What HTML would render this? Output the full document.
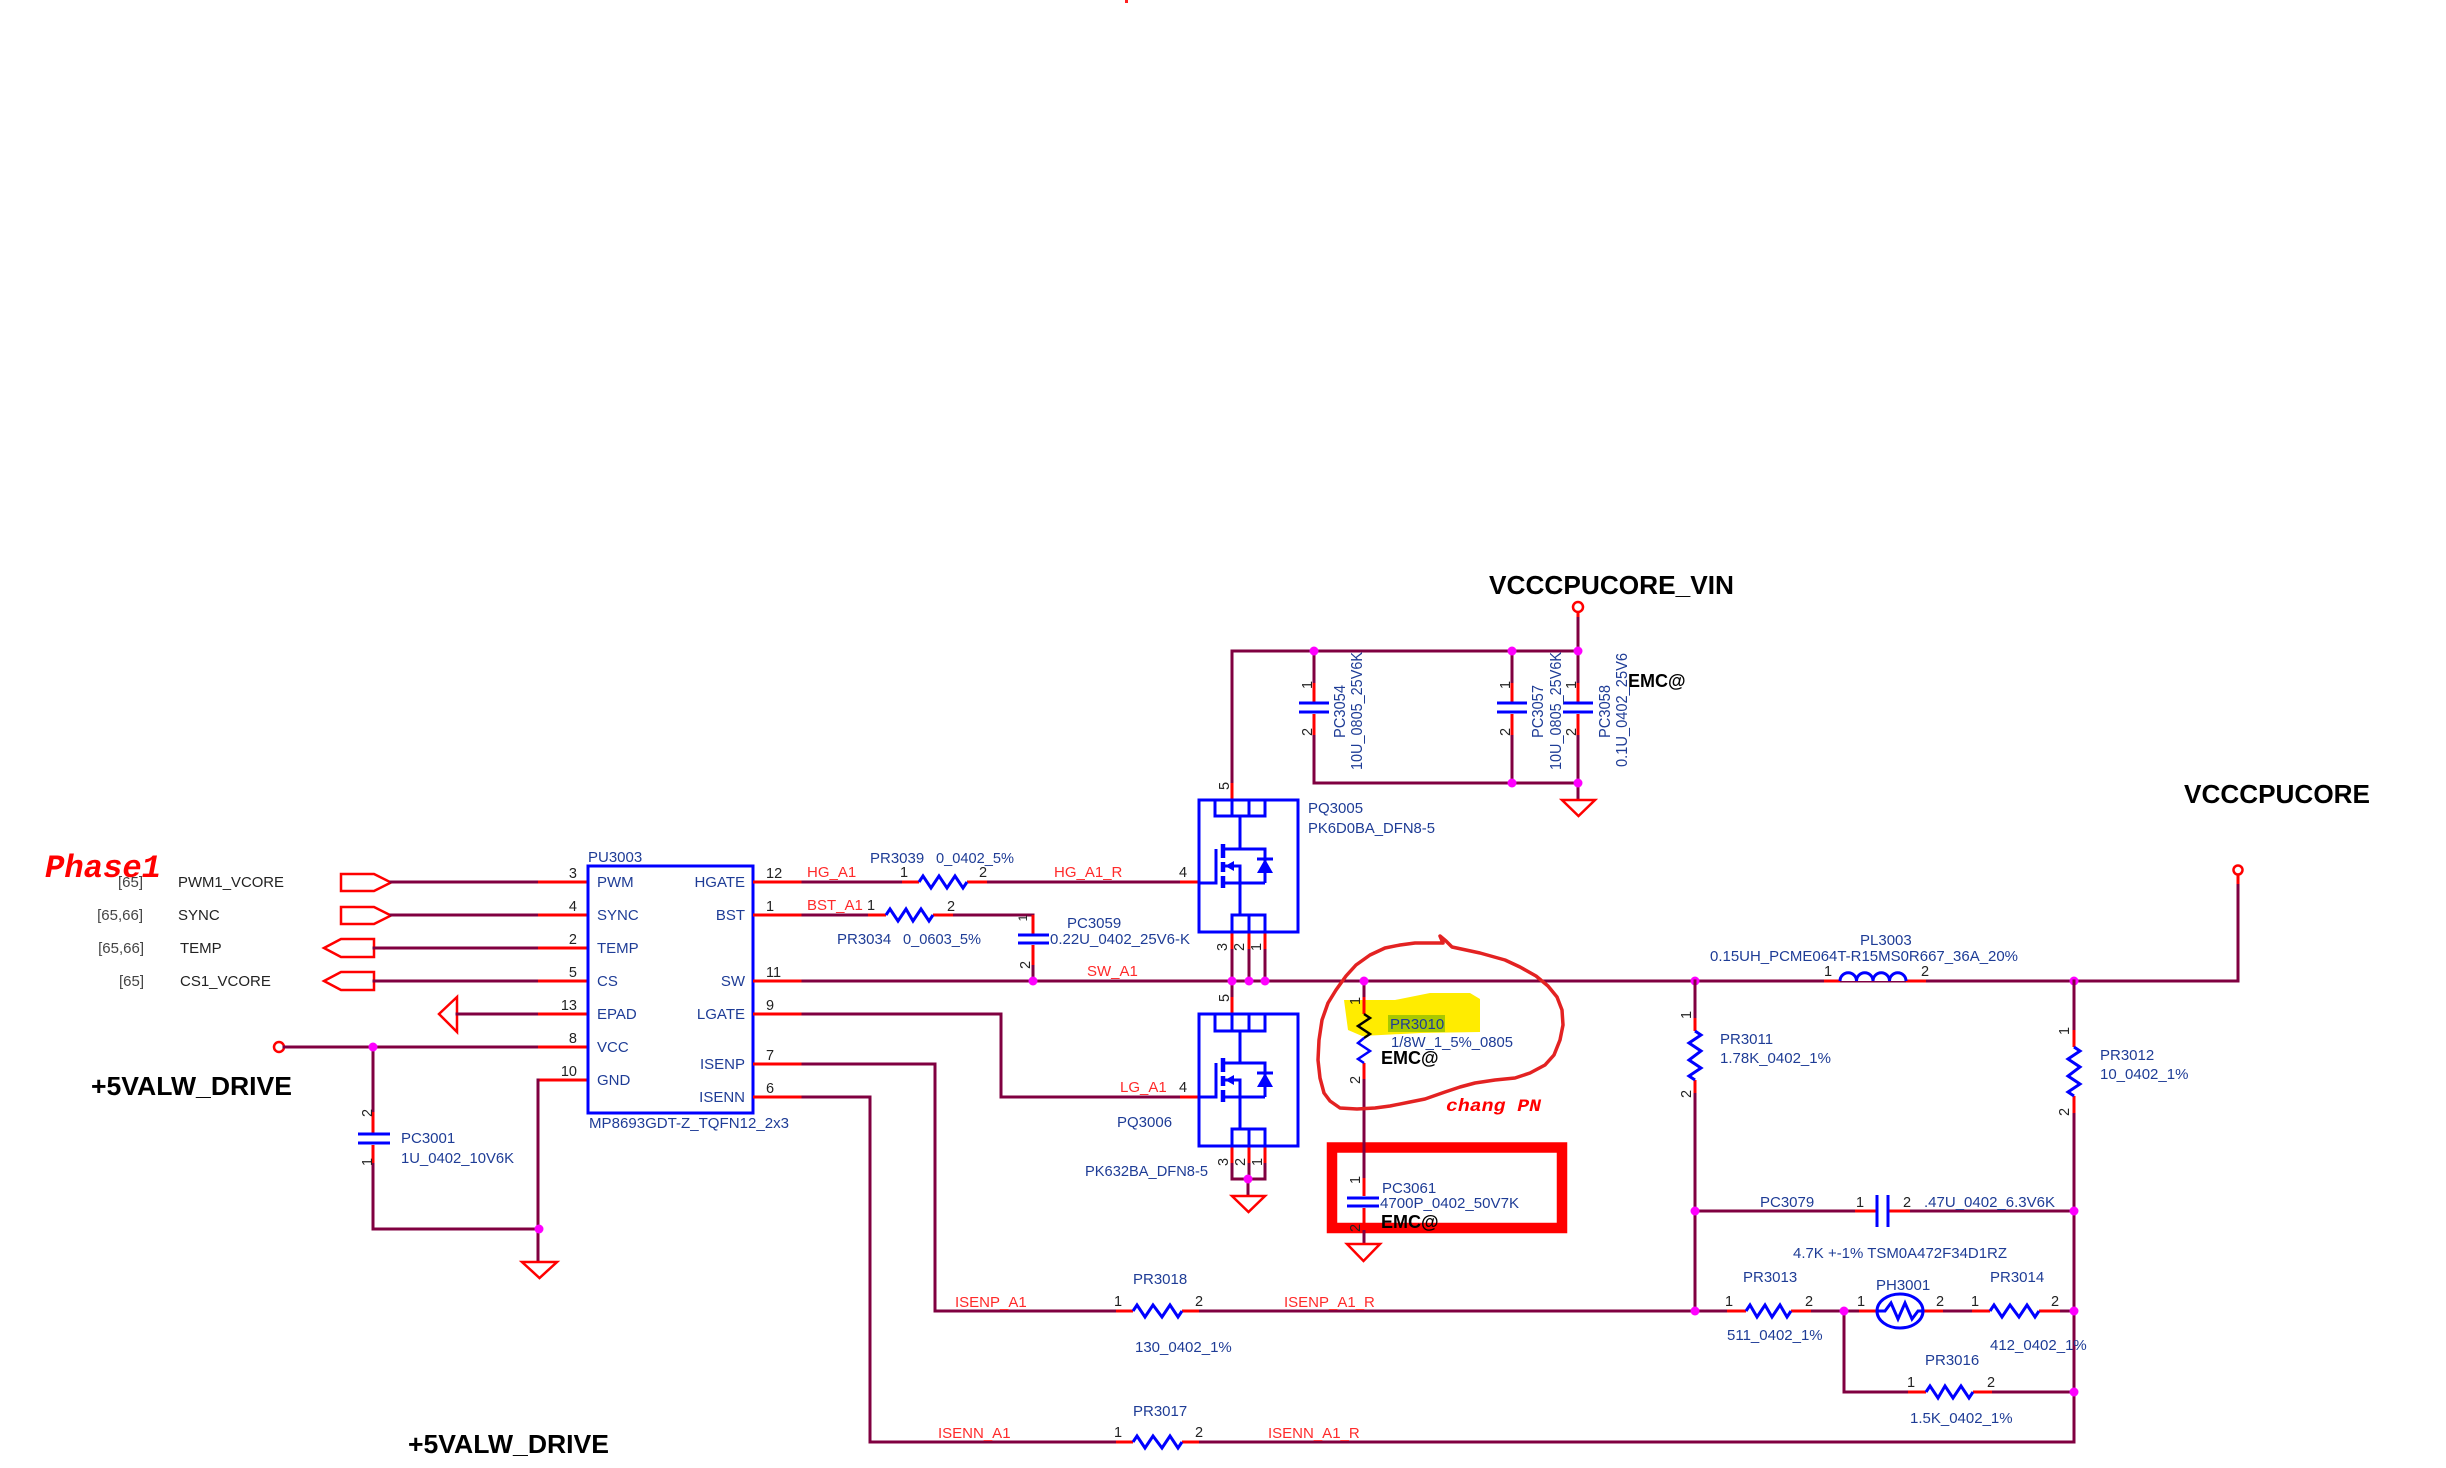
<!DOCTYPE html>
<html><head><meta charset="utf-8"><style>
html,body{margin:0;padding:0;background:#fff;}
body{width:2446px;height:1468px;overflow:hidden;}
svg{display:block;}
.w{stroke:#800040;stroke-width:3;fill:none;stroke-linecap:square}
.r{stroke:#ff0000;stroke-width:3;fill:none}
.b{stroke:#0000ff;stroke-width:3;fill:none}
.bf{fill:#0000ff;stroke:none}
.g{stroke:#ff0000;stroke-width:2.5;fill:#fff}
.d{fill:#ff00ff}
text{font-family:"Liberation Sans",Arial,sans-serif;font-size:15px;fill:#1e3c96}
.n{fill:#222;font-size:14.5px}
.nl{fill:#ff2a2a}
.k{fill:#222}
.bd{font-weight:bold;fill:#000}
.mono{font-family:"Liberation Mono","Courier New",monospace;font-weight:bold;font-style:italic;fill:#ff0000}
</style></head><body>
<svg width="2446" height="1468" viewBox="0 0 2446 1468" xmlns="http://www.w3.org/2000/svg">
<rect x="1125" y="0" width="3" height="3" fill="#ff2020"/>

<!-- hand markings behind -->
<polygon points="1344,1000 1395,1000 1430,993 1470,993 1480,999 1480,1032 1420,1033 1362,1036 1348,1030" fill="#ffec00"/>
<rect x="1388" y="1015" width="57" height="17" fill="#a8c800"/>
<rect x="1332" y="1147.5" width="230" height="80.5" fill="none" stroke="#ff0000" stroke-width="10.5"/>

<!-- Title texts -->
<text x="45" y="877" class="mono" style="font-size:32px" textLength="116" lengthAdjust="spacingAndGlyphs">Phase1</text>
<text x="91" y="1095" class="bd" style="font-size:26px" textLength="201" lengthAdjust="spacingAndGlyphs">+5VALW_DRIVE</text>
<text x="408" y="1453" class="bd" style="font-size:26px" textLength="201" lengthAdjust="spacingAndGlyphs">+5VALW_DRIVE</text>
<text x="1489" y="594" class="bd" style="font-size:26px" textLength="245" lengthAdjust="spacingAndGlyphs">VCCCPUCORE_VIN</text>
<text x="2184" y="803" class="bd" style="font-size:26px" textLength="186" lengthAdjust="spacingAndGlyphs">VCCCPUCORE</text>

<!-- Left ports -->
<text x="143" y="887" text-anchor="end" style="fill:#444">[65]</text>
<text x="178" y="887" class="k" textLength="106" lengthAdjust="spacingAndGlyphs">PWM1_VCORE</text>
<text x="143" y="920" text-anchor="end" style="fill:#444">[65,66]</text>
<text x="178" y="920" class="k">SYNC</text>
<text x="144" y="953" text-anchor="end" style="fill:#444">[65,66]</text>
<text x="180" y="953" class="k">TEMP</text>
<text x="144" y="986" text-anchor="end" style="fill:#444">[65]</text>
<text x="180" y="986" class="k">CS1_VCORE</text>

<polygon class="g" points="341,874 374,874 391,882.5 374,891 341,891"/>
<polygon class="g" points="341,907 374,907 391,915.5 374,924 341,924"/>
<polygon class="g" points="324,948 341,939 374,939 374,957 341,957"/>
<polygon class="g" points="324,981 341,972 374,972 374,990 341,990"/>
<polygon class="g" points="439,1014 457,997 457,1032"/>
<circle cx="279" cy="1047" r="5" class="g"/>

<path class="w" d="M391,882H538M391,915H538M374,948H538M374,981H538M457,1014H538M284,1047H538"/>
<path class="r" d="M538,882H588M538,915H588M538,948H588M538,981H588M538,1014H588M538,1047H588M538,1080H588"/>
<path class="w" d="M538,1080V1262M373,1047V1112M373,1163V1229H538"/>
<path class="r" d="M373,1112V1133M373,1145V1163"/>
<path class="b" d="M358,1134H390M358,1143H390"/>
<polygon class="g" points="522,1262 557,1262 539.5,1278"/>
<circle cx="373" cy="1047" r="4.5" class="d"/>
<circle cx="539" cy="1229" r="4.5" class="d"/>
<text class="n" transform="translate(367,1113) rotate(-90)" text-anchor="middle" y="5">2</text>
<text class="n" transform="translate(367,1162) rotate(-90)" text-anchor="middle" y="5">1</text>
<text x="401" y="1143">PC3001</text>
<text x="401" y="1163" textLength="113" lengthAdjust="spacingAndGlyphs">1U_0402_10V6K</text>

<!-- PU3003 -->
<rect x="588" y="866" width="165" height="247" class="b"/>
<text x="588" y="862">PU3003</text>
<text x="589" y="1128" textLength="200" lengthAdjust="spacingAndGlyphs">MP8693GDT-Z_TQFN12_2x3</text>
<text x="597" y="887">PWM</text>
<text x="597" y="920">SYNC</text>
<text x="597" y="953">TEMP</text>
<text x="597" y="986">CS</text>
<text x="597" y="1019">EPAD</text>
<text x="597" y="1052">VCC</text>
<text x="597" y="1085">GND</text>
<text x="745" y="887" text-anchor="end">HGATE</text>
<text x="745" y="920" text-anchor="end">BST</text>
<text x="745" y="986" text-anchor="end">SW</text>
<text x="745" y="1019" text-anchor="end">LGATE</text>
<text x="745" y="1069" text-anchor="end">ISENP</text>
<text x="745" y="1102" text-anchor="end">ISENN</text>
<g text-anchor="end">
<text class="n" x="577" y="878">3</text>
<text class="n" x="577" y="911">4</text>
<text class="n" x="577" y="944">2</text>
<text class="n" x="577" y="977">5</text>
<text class="n" x="577" y="1010">13</text>
<text class="n" x="577" y="1043">8</text>
<text class="n" x="577" y="1076">10</text>
</g>
<text class="n" x="766" y="878">12</text>
<text class="n" x="766" y="911">1</text>
<text class="n" x="766" y="977">11</text>
<text class="n" x="766" y="1010">9</text>
<text class="n" x="766" y="1060">7</text>
<text class="n" x="766" y="1093">6</text>
<path class="r" d="M753,882H803M753,915H803M753,981H803M753,1014H803M753,1064H803M753,1097H803"/>

<!-- HGATE chain -->
<path class="w" d="M803,882H902M987,882H1180"/>
<path class="r" d="M902,882H919M967,882H987M1180,882H1199"/>
<polyline class="b" points="919,882 923,876 931,888 939,876 947,888 955,876 963,888 967,882"/>
<text x="870" y="863">PR3039</text>
<text x="936" y="863" textLength="78" lengthAdjust="spacingAndGlyphs">0_0402_5%</text>
<text x="807" y="877" class="nl">HG_A1</text>
<text class="n" x="900" y="877">1</text>
<text class="n" x="979" y="877">2</text>
<text x="1054" y="877" class="nl">HG_A1_R</text>
<text class="n" x="1179" y="877">4</text>

<!-- BST chain -->
<path class="w" d="M803,915H868M953,915H1033M1033,965V981"/>
<path class="r" d="M868,915H886M933,915H953M1033,915V934M1033,945V965"/>
<polyline class="b" points="886,915 890,909 898,921 906,909 913,921 921,909 929,921 933,915"/>
<path class="b" d="M1018,935H1049M1018,943H1049"/>
<text x="807" y="910" class="nl">BST_A1</text>
<text class="n" x="867" y="910">1</text>
<text class="n" x="947" y="911">2</text>
<text x="837" y="944">PR3034</text>
<text x="903" y="944" textLength="78" lengthAdjust="spacingAndGlyphs">0_0603_5%</text>
<text x="1067" y="928">PC3059</text>
<text x="1050" y="944" textLength="140" lengthAdjust="spacingAndGlyphs">0.22U_0402_25V6-K</text>
<text class="n" transform="translate(1023,918) rotate(-90)" text-anchor="middle" y="4" style="font-size:12px">1</text>
<text class="n" transform="translate(1025,965) rotate(-90)" text-anchor="middle" y="5">2</text>

<!-- SW line -->
<path class="w" d="M803,981H2238V884"/>
<path class="r" d="M2238,884V875"/>
<circle cx="2238" cy="870" r="4.5" class="g"/>
<text x="1087" y="976" class="nl">SW_A1</text>

<!-- LGATE -->
<path class="w" d="M803,1014H1001V1097H1180"/>
<path class="r" d="M1180,1097H1199"/>
<text x="1120" y="1092" class="nl">LG_A1</text>
<text class="n" x="1179" y="1092">4</text>

<!-- PQ3005 -->
<path class="w" d="M1232,651V783M1232,949V981M1249,949V981M1265,949V981"/>
<path class="r" d="M1232,783V800M1232,932V949M1249,932V949M1265,932V949"/>
<g class="b">
<rect x="1199" y="800" width="99" height="132"/>
<rect x="1215" y="800" width="50" height="16"/>
<path d="M1232,800V816M1249,800V816M1240,816V849M1223,849H1265V883M1223,883H1265M1199,883H1216V849M1223,866H1240V915"/>
<rect x="1232" y="915" width="33" height="17"/>
<path d="M1249,915V932M1257,859H1273"/>
</g>
<path d="M1223,844V858M1223,862V872M1223,876V888" stroke="#0000ff" stroke-width="4.5" fill="none"/>
<polygon class="bf" points="1265,859 1257,873 1273,873"/>
<polygon class="bf" points="1225,866 1234,861 1234,871"/>
<text x="1308" y="813">PQ3005</text>
<text x="1308" y="833" textLength="127" lengthAdjust="spacingAndGlyphs">PK6D0BA_DFN8-5</text>
<text class="n" transform="translate(1224,786) rotate(-90)" text-anchor="middle" y="5">5</text>
<text class="n" transform="translate(1222,947) rotate(-90)" text-anchor="middle" y="5">3</text>
<text class="n" transform="translate(1239,947) rotate(-90)" text-anchor="middle" y="5">2</text>
<text class="n" transform="translate(1256,947) rotate(-90)" text-anchor="middle" y="5">1</text>

<!-- PQ3006 -->
<path class="w" d="M1232,981V997M1232,1163V1179H1265V1163M1249,1163V1179M1248,1179V1196"/>
<path class="r" d="M1232,997V1014M1232,1146V1163M1249,1146V1163M1265,1146V1163"/>
<g class="b">
<rect x="1199" y="1014" width="99" height="132"/>
<rect x="1215" y="1014" width="50" height="17"/>
<path d="M1232,1014V1031M1249,1014V1031M1240,1031V1063M1223,1063H1265V1097M1223,1097H1265M1199,1097H1216V1063M1223,1080H1240V1129"/>
<rect x="1232" y="1129" width="33" height="17"/>
<path d="M1249,1129V1146M1257,1073H1273"/>
</g>
<path d="M1223,1058V1072M1223,1076V1086M1223,1090V1102" stroke="#0000ff" stroke-width="4.5" fill="none"/>
<polygon class="bf" points="1265,1073 1257,1087 1273,1087"/>
<polygon class="bf" points="1225,1080 1234,1075 1234,1085"/>
<polygon class="g" points="1232,1196 1265,1196 1248.5,1212"/>
<circle cx="1248" cy="1179" r="4.5" class="d"/>
<text x="1117" y="1127">PQ3006</text>
<text x="1085" y="1176" textLength="123" lengthAdjust="spacingAndGlyphs">PK632BA_DFN8-5</text>
<text class="n" transform="translate(1224,998) rotate(-90)" text-anchor="middle" y="5">5</text>
<text class="n" transform="translate(1223,1162) rotate(-90)" text-anchor="middle" y="5">3</text>
<text class="n" transform="translate(1240,1162) rotate(-90)" text-anchor="middle" y="5">2</text>
<text class="n" transform="translate(1257,1162) rotate(-90)" text-anchor="middle" y="5">1</text>

<!-- VIN caps -->
<path class="w" d="M1232,651H1578V617M1314,651V683M1314,735V783H1578V800M1512,651V683M1512,735V783M1578,651V683M1578,735V783"/>
<path class="r" d="M1578,617V612M1314,683V702M1314,714V735M1512,683V702M1512,714V735M1578,683V702M1578,714V735"/>
<path class="b" d="M1299,703H1329M1299,712H1329M1497,703H1527M1497,712H1527M1563,703H1593M1563,712H1593"/>
<circle cx="1578" cy="607" r="5" class="g"/>
<polygon class="g" points="1562,800 1595,800 1578.5,816"/>
<circle cx="1314" cy="651" r="4.5" class="d"/>
<circle cx="1512" cy="651" r="4.5" class="d"/>
<circle cx="1578" cy="651" r="4.5" class="d"/>
<circle cx="1512" cy="783" r="4.5" class="d"/>
<circle cx="1578" cy="783" r="4.5" class="d"/>
<text class="n" transform="translate(1307,685) rotate(-90)" text-anchor="middle" y="5">1</text>
<text class="n" transform="translate(1307,732) rotate(-90)" text-anchor="middle" y="5">2</text>
<text class="n" transform="translate(1505,685) rotate(-90)" text-anchor="middle" y="5">1</text>
<text class="n" transform="translate(1505,732) rotate(-90)" text-anchor="middle" y="5">2</text>
<text class="n" transform="translate(1571,685) rotate(-90)" text-anchor="middle" y="5">1</text>
<text class="n" transform="translate(1571,732) rotate(-90)" text-anchor="middle" y="5">2</text>
<text transform="translate(1345,738) rotate(-90)" style="font-size:16px" textLength="53" lengthAdjust="spacingAndGlyphs">PC3054</text>
<text transform="translate(1362,770) rotate(-90)" style="font-size:16px" textLength="118" lengthAdjust="spacingAndGlyphs">10U_0805_25V6K</text>
<text transform="translate(1543,738) rotate(-90)" style="font-size:16px" textLength="53" lengthAdjust="spacingAndGlyphs">PC3057</text>
<text transform="translate(1561,770) rotate(-90)" style="font-size:16px" textLength="118" lengthAdjust="spacingAndGlyphs">10U_0805_25V6K</text>
<text transform="translate(1610,738) rotate(-90)" style="font-size:16px" textLength="53" lengthAdjust="spacingAndGlyphs">PC3058</text>
<text transform="translate(1627,767) rotate(-90)" style="font-size:16px" textLength="114" lengthAdjust="spacingAndGlyphs">0.1U_0402_25V6</text>
<text x="1628" y="687" class="bd" style="font-size:18px">EMC@</text>

<!-- PR3010 / PC3061 -->
<path class="w" d="M1364,981V997M1364,1079V1178M1364,1230V1244"/>
<path class="r" d="M1364,997V1014M1364,1063V1079M1364,1178V1196M1364,1208V1230"/>
<polyline points="1364,1014 1370,1018 1358,1026 1370,1034 1364,1038" fill="none" stroke="#000" stroke-width="2.5"/>
<polyline points="1364,1038 1358,1043 1370,1051 1358,1059 1364,1063" fill="none" stroke="#0000ff" stroke-width="2.5"/>
<path class="b" d="M1347,1198H1379M1347,1206H1379"/>
<polygon class="g" points="1347,1244 1380,1244 1363.5,1261"/>
<circle cx="1364" cy="981" r="4.5" class="d"/>
<text x="1390" y="1029">PR3010</text>
<text x="1391" y="1047" textLength="122" lengthAdjust="spacingAndGlyphs">1/8W_1_5%_0805</text>
<text x="1381" y="1064" class="bd" style="font-size:18px">EMC@</text>
<text class="n" transform="translate(1355,1001) rotate(-90)" text-anchor="middle" y="5">1</text>
<text class="n" transform="translate(1355,1080) rotate(-90)" text-anchor="middle" y="5">2</text>
<text x="1382" y="1193">PC3061</text>
<text x="1380" y="1208" textLength="139" lengthAdjust="spacingAndGlyphs">4700P_0402_50V7K</text>
<text x="1381" y="1228" class="bd" style="font-size:18px">EMC@</text>
<text class="n" transform="translate(1355,1180) rotate(-90)" text-anchor="middle" y="5">1</text>
<text class="n" transform="translate(1355,1228) rotate(-90)" text-anchor="middle" y="5">2</text>

<!-- hand circle -->
<polyline fill="none" stroke="#e32222" stroke-width="3.5" stroke-linejoin="round" stroke-linecap="round"
 points="1443,943 1440,936 1446,941 1452,947 1480,953 1505,960 1520,967 1536,976 1548,986 1557,997 1562,1010 1563,1025 1560,1040 1554,1055 1545,1065 1530,1073 1515,1078 1495,1080 1475,1083 1460,1087 1445,1092 1425,1099 1410,1102 1390,1106 1375,1108 1357,1109 1340,1108 1330,1101 1324,1093 1320,1078 1318,1060 1319,1040 1322,1020 1328,1003 1336,990 1346,976 1356,965 1370,955 1385,948 1400,945 1415,943 1430,943 1443,943"/>
<text x="1446" y="1111" class="mono" style="font-size:17.5px" textLength="95" lengthAdjust="spacingAndGlyphs">chang  PN</text>

<!-- Inductor -->
<path class="r" d="M1824,981H1840M1906,981H1926"/>
<path d="M1840,981a8.25,8.25 0 0 1 16.5,0a8.25,8.25 0 0 1 16.5,0a8.25,8.25 0 0 1 16.5,0a8.25,8.25 0 0 1 16.5,0" fill="#fff" stroke="#0000ff" stroke-width="3"/>
<text class="n" x="1824" y="976">1</text>
<text class="n" x="1921" y="976">2</text>
<text x="1860" y="945">PL3003</text>
<text x="1710" y="961" textLength="308" lengthAdjust="spacingAndGlyphs">0.15UH_PCME064T-R15MS0R667_36A_20%</text>
<circle cx="1695" cy="981" r="4.5" class="d"/>
<circle cx="2074" cy="981" r="4.5" class="d"/>
<circle cx="1232" cy="981" r="4.5" class="d"/>
<circle cx="1249" cy="981" r="4.5" class="d"/>
<circle cx="1265" cy="981" r="4.5" class="d"/>
<circle cx="1033" cy="981" r="4.5" class="d"/>

<!-- right network -->
<path class="w" d="M1695,981V1018M1695,1093V1311M2074,981V1030M2074,1113V1442"/>
<path class="r" d="M1695,1018V1031M1695,1080V1093M2074,1030V1047M2074,1096V1113"/>
<polyline class="b" points="1695,1031 1701,1035 1689,1043 1701,1051 1689,1060 1701,1068 1689,1076 1695,1080"/>
<polyline class="b" points="2074,1047 2080,1051 2068,1059 2080,1067 2068,1076 2080,1084 2068,1092 2074,1096"/>
<text class="n" transform="translate(1686,1015) rotate(-90)" text-anchor="middle" y="5">1</text>
<text class="n" transform="translate(1686,1094) rotate(-90)" text-anchor="middle" y="5">2</text>
<text class="n" transform="translate(2064,1031) rotate(-90)" text-anchor="middle" y="5">1</text>
<text class="n" transform="translate(2064,1112) rotate(-90)" text-anchor="middle" y="5">2</text>
<text x="1720" y="1044">PR3011</text>
<text x="1720" y="1063">1.78K_0402_1%</text>
<text x="2100" y="1060">PR3012</text>
<text x="2100" y="1079">10_0402_1%</text>

<!-- PC3079 -->
<path class="w" d="M1695,1211H1855M1910,1211H2074"/>
<path class="r" d="M1855,1211H1876M1889,1211H1910"/>
<path class="b" d="M1877,1195V1227M1888,1195V1227"/>
<circle cx="1695" cy="1211" r="4.5" class="d"/>
<circle cx="2074" cy="1211" r="4.5" class="d"/>
<text x="1760" y="1207">PC3079</text>
<text class="n" x="1856" y="1207">1</text>
<text class="n" x="1903" y="1207">2</text>
<text x="1924" y="1207" textLength="131" lengthAdjust="spacingAndGlyphs">.47U_0402_6.3V6K</text>

<!-- thermistor row -->
<path class="w" d="M935,1311H1116M1199,1311H1727M1811,1311H1859M1943,1311H1972M2060,1311H2074M1844,1311V1392H1908M1992,1392H2074"/>
<path class="r" d="M1727,1311H1746M1791,1311H1811M1859,1311H1877M1923,1311H1943M1972,1311H1990M2039,1311H2060M1908,1392H1926M1973,1392H1992"/>
<polyline class="b" points="1746,1311 1750,1305 1757,1317 1765,1305 1772,1317 1780,1305 1787,1317 1791,1311"/>
<polyline class="b" points="1990,1311 1994,1305 2002,1317 2010,1305 2019,1317 2027,1305 2035,1317 2039,1311"/>
<polyline class="b" points="1926,1392 1930,1386 1938,1398 1945,1386 1953,1398 1961,1386 1969,1398 1973,1392"/>
<ellipse cx="1900" cy="1311" rx="23" ry="17" class="b"/>
<polyline class="b" points="1877,1311 1885,1311 1891,1303 1898,1319 1905,1303 1912,1319 1918,1311 1923,1311"/>
<circle cx="1695" cy="1311" r="4.5" class="d"/>
<circle cx="1844" cy="1311" r="4.5" class="d"/>
<circle cx="2074" cy="1311" r="4.5" class="d"/>
<circle cx="2074" cy="1392" r="4.5" class="d"/>
<text x="1743" y="1282">PR3013</text>
<text class="n" x="1725" y="1306">1</text>
<text class="n" x="1805" y="1306">2</text>
<text x="1727" y="1340">511_0402_1%</text>
<text x="1876" y="1290">PH3001</text>
<text class="n" x="1857" y="1306">1</text>
<text class="n" x="1936" y="1306">2</text>
<text x="1793" y="1258" textLength="214" lengthAdjust="spacingAndGlyphs">4.7K +-1% TSM0A472F34D1RZ</text>
<text x="1990" y="1282">PR3014</text>
<text class="n" x="1971" y="1306">1</text>
<text class="n" x="2051" y="1306">2</text>
<text x="1990" y="1350">412_0402_1%</text>
<text x="1925" y="1365">PR3016</text>
<text class="n" x="1907" y="1387">1</text>
<text class="n" x="1987" y="1387">2</text>
<text x="1910" y="1423">1.5K_0402_1%</text>

<!-- ISENP / ISENN -->
<path class="w" d="M803,1064H935V1311M803,1097H870V1442H1116M1199,1442H2074"/>
<path class="r" d="M1116,1311H1133M1182,1311H1199M1116,1442H1133M1182,1442H1199"/>
<polyline class="b" points="1133,1311 1137,1305 1145,1317 1153,1305 1162,1317 1170,1305 1178,1317 1182,1311"/>
<polyline class="b" points="1133,1442 1137,1436 1145,1448 1153,1436 1162,1448 1170,1436 1178,1448 1182,1442"/>
<text x="955" y="1307" class="nl">ISENP_A1</text>
<text class="n" x="1114" y="1306">1</text>
<text class="n" x="1195" y="1306">2</text>
<text x="1284" y="1307" class="nl">ISENP_A1_R</text>
<text x="1133" y="1284">PR3018</text>
<text x="1135" y="1352">130_0402_1%</text>
<text x="938" y="1438" class="nl">ISENN_A1</text>
<text class="n" x="1114" y="1437">1</text>
<text class="n" x="1195" y="1437">2</text>
<text x="1268" y="1438" class="nl">ISENN_A1_R</text>
<text x="1133" y="1416">PR3017</text>
</svg>
</body></html>
